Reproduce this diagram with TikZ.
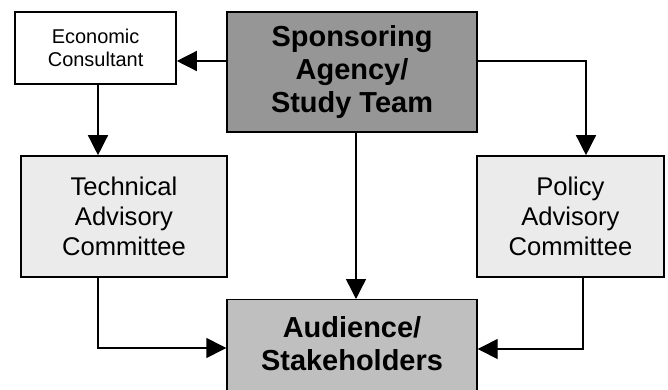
\documentclass[tikz,border=0pt]{standalone}
\usepackage{fontspec}
\setmainfont{Liberation Sans}
\usetikzlibrary{arrows.meta}
\definecolor{sponsorgray}{gray}{0.59}
\definecolor{audiencegray}{gray}{0.75}
\definecolor{committeegray}{gray}{0.92}
\begin{document}
\begin{tikzpicture}[line width=1pt,>={Triangle[length=0.5cm,width=0.5cm]},
        box/.style={draw,align=center,inner sep=0pt},
        bigbox/.style={box,font=\fontsize{20.6}{23.5}\selectfont\bfseries,
            minimum width=6.25cm,minimum height=3cm},
        committee/.style={box,fill=committeegray,minimum height=3.025cm,
            font=\fontsize{18.2}{21.3}\selectfont}]
                \useasboundingbox (0,0) rectangle (16.7,-9.75);
                \clip (0,0) rectangle (16.7,-9.75);
                \node[box,minimum width=4.025cm,minimum height=1.8cm,
                    font=\fontsize{14.2}{16.4}\selectfont] (econ) at (2.39,-1.2) {Economic\\Consultant};
                \node[bigbox,fill=sponsorgray] (spons) at (8.8,-1.8) {Sponsoring\\Agency/\\Study Team};
                \node[committee,minimum width=5.15cm] (tech) at (3.1,-5.41) {Technical\\Advisory\\Committee};
                \node[committee,minimum width=4.675cm] (pol) at (14.26,-5.41) {Policy\\Advisory\\Committee};
                \node[bigbox,fill=audiencegray,anchor=north] (aud) at (8.8,-7.475) {Audience/\\Stakeholders\\~};
                \draw[->] ([yshift=0.275cm]spons.west) -- ([yshift=0.275cm]spons.west -| econ.east);
                \draw[->] ([xshift=0.06cm]econ.south) -- ([xshift=0.06cm]econ.south |- tech.north);
                \draw[->] ([yshift=0.275cm]spons.east) -| ([xshift=0.39cm]pol.north);
                \draw[->] ([xshift=0.1cm]spons.south) -- ([xshift=0.1cm]aud.north);
                \draw[->] ([xshift=-0.65cm]tech.south) |- ([yshift=-1.225cm]aud.north west);
                \draw[->] ([xshift=0.31cm]pol.south) |- ([yshift=-1.25cm]aud.north east);
            \end{tikzpicture}
\end{document}
